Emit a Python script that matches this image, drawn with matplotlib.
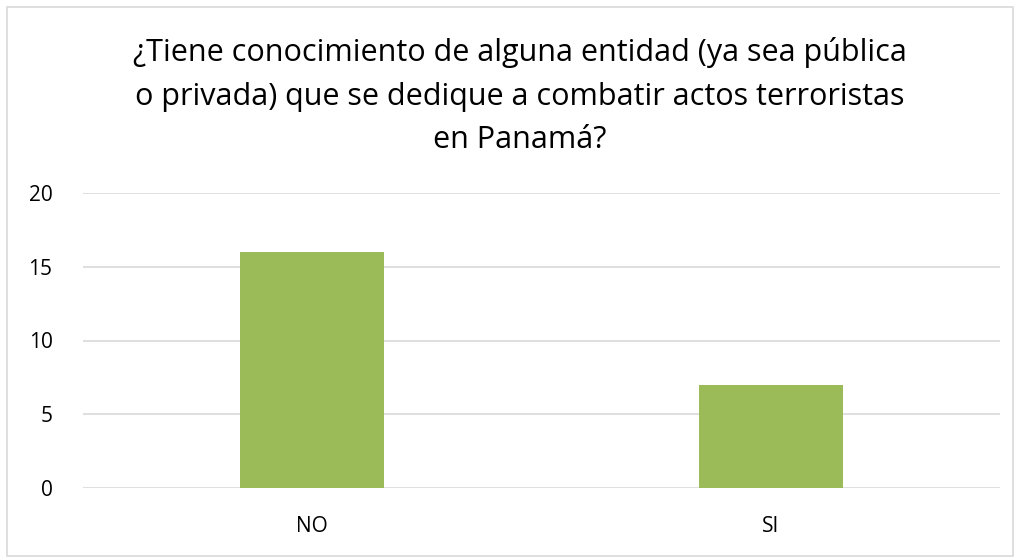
import matplotlib
matplotlib.use("Agg")
import matplotlib.pyplot as plt
from matplotlib.patches import Rectangle

categories = ["NO", "SI"]
values = [16, 7]
yticks = [0, 5, 10, 15, 20]
title = "¿Tiene conocimiento de alguna entidad (ya sea pública\no privada) que se dedique a combatir actos terroristas\nen Panamá?"

plt.rcParams['font.family'] = ['Open Sans', 'DejaVu Sans']

fig = plt.figure(figsize=(10.16, 5.58), dpi=100)
W, H = 1016, 558
ax = fig.add_axes([83 / W, 1 - 488 / H, (1000 - 83) / W, (488 - 193) / H])

x = range(len(categories))
ax.bar(x, values, width=0.315, color="#9BBB59", zorder=3)
ax.set_xlim(-0.5, 1.5)
ax.set_ylim(0, 20)
ax.set_yticks(yticks)
ax.set_xticks(list(x))
ax.set_xticklabels(categories)
ax.tick_params(axis='both', length=0, labelsize=15, colors="#000000")
ax.tick_params(axis='y', pad=22)
ax.tick_params(axis='x', pad=20)
ax.grid(axis='y', color="#D9D9D9", linewidth=1.2, zorder=0)
for s in ax.spines.values():
    s.set_visible(False)

fig.text(520 / W, 1 - 96 / H, title, ha='center', va='center', fontsize=22,
         linespacing=1.6, color="#000000")

fig.patches.append(Rectangle((7 / W, 2 / H), (1013 - 7) / W, (551 - 2) / H,
                             transform=fig.transFigure, fill=False,
                             edgecolor="#D9D9D9", linewidth=1.2))

fig.savefig("out.png", dpi=100)
